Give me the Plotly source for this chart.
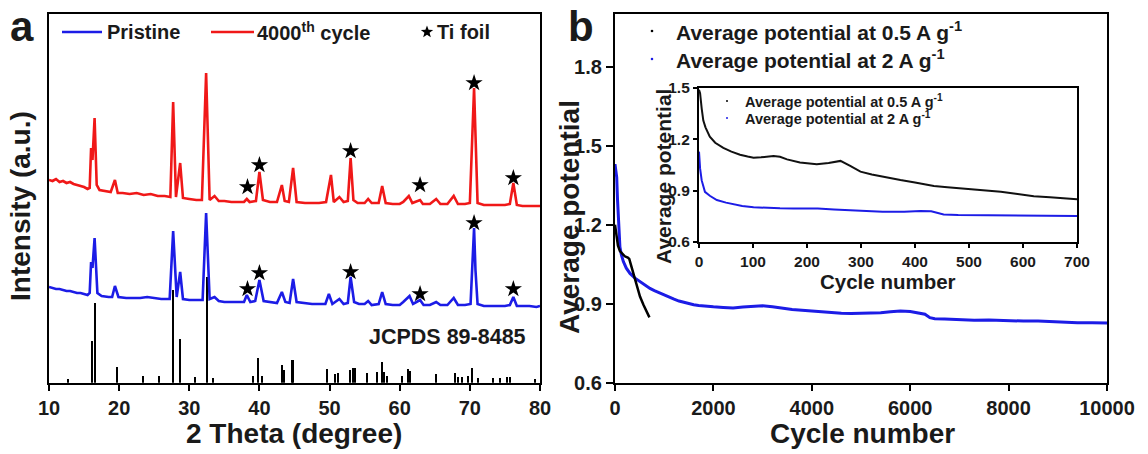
import math
import plotly.graph_objects as go

W, H = 1148, 454

# ---------------- Panel a data (XRD, arbitrary units) ----------------
red_deg = [10.0, 10.5, 11, 11.5, 12, 12.5, 13, 13.5, 14, 14.5, 15, 15.5, 15.8, 16.0, 16.2, 16.5, 16.8, 17.2, 18, 18.8,
           19.4, 19.8, 20.5, 21.5, 22.5, 23.5, 24.5, 25.5, 26.5, 27.3, 27.7, 28.1, 28.7, 29.1, 30, 31, 31.8, 32.4, 32.9,
           33.6, 34.2, 35, 36, 37, 37.8, 38.2, 38.6, 39.5, 40.0, 40.5, 41.5, 42.5, 43.2, 43.6, 44.2, 44.8, 45.3, 46.5,
           47.5, 48.5, 49.5, 50.2, 50.6, 51.4, 52.0, 52.6, 53.0, 53.4, 54.0, 55.0, 55.5, 56.0, 57.0, 57.5, 58.0, 59.0,
           60.0, 60.5, 61.3, 61.8, 62.9, 63.3, 64.3, 65.2, 65.8, 66.8, 67.7, 68.3, 69.3, 70.0, 70.6, 70.8, 71.1, 72, 73,
           74, 75, 75.7, 76.2, 76.7, 77.5, 78.5, 79.5, 80]
red_px = [180, 181, 179, 182, 181, 183, 182, 184, 185, 186, 187, 189, 188, 148, 160, 118, 185, 190, 191, 192,
          180, 193, 193, 194, 193, 195, 194, 196, 196, 197, 102, 197, 163, 198, 199, 200, 200, 73, 200,
          196, 201, 201, 202, 202, 202, 199, 202, 201, 172, 200, 202, 202, 185, 201, 202, 168, 202, 203,
          203, 203, 202, 175, 202, 197, 202, 201, 158, 200, 203, 203, 199, 203, 203, 186, 203, 204,
          204, 202, 196, 203, 200, 204, 204, 199, 204, 204, 196, 204, 204, 203, 88, 140, 203, 205, 205,
          205, 205, 204, 183, 205, 206, 206, 206, 206]

blue_deg = [10, 10.5, 11, 11.5, 12, 12.5, 13, 13.5, 14, 14.5, 15, 15.5, 15.8, 16.0, 16.2, 16.5, 16.9, 17.5, 18.5, 19.0,
            19.4, 19.9, 21, 22, 23, 24, 25, 26, 27.2, 27.7, 28.2, 28.7, 29.1, 30, 31, 31.9, 32.4, 32.9, 33.6, 34.2,
            35, 36, 37, 37.8, 38.2, 38.7, 39.4, 40.0, 40.6, 41.5, 42.5, 43.2, 43.7, 44.3, 44.8, 45.3, 46.5, 47.5,
            48.5, 49.4, 49.9, 50.4, 51.4, 52.0, 52.6, 53.0, 53.5, 54.2, 55.0, 55.5, 56.0, 57.0, 57.5, 58.0, 59.0,
            60.0, 60.5, 61.4, 61.9, 62.9, 63.4, 64.3, 65.2, 65.8, 66.8, 67.7, 68.3, 69.3, 70.1, 70.6, 70.8, 71.1,
            72, 73, 74, 75, 75.7, 76.2, 76.7, 77.5, 78.5, 79.5, 80]
blue_px = [287, 288, 289, 289, 290, 291, 291, 292, 293, 293, 294, 295, 293, 262, 268, 238, 293, 296, 297, 297,
           286, 297, 298, 298, 298, 297, 298, 299, 299, 231, 297, 272, 299, 300, 300, 300, 213, 299, 297, 301,
           302, 302, 302, 302, 295, 302, 301, 280, 301, 302, 303, 292, 302, 303, 279, 302, 303, 304,
           304, 304, 294, 304, 299, 304, 303, 277, 302, 304, 304, 301, 305, 304, 292, 304, 305,
           305, 302, 296, 304, 300, 305, 305, 302, 305, 305, 298, 305, 305, 304, 228, 270, 304,
           306, 306, 306, 306, 305, 297, 306, 306, 306, 307, 306]

stick_deg = [12.75, 16.08, 16.56, 19.65, 23.45, 25.73, 27.7, 28.68, 30.8, 32.5, 33.4, 39.04, 39.84, 40.32,
             43.26, 43.5, 44.6, 44.83, 49.68, 50.78, 51.25, 52.9, 53.38, 53.6, 55.3, 56.8, 57.52, 57.8, 58.14,
             60.28, 61.23, 61.47, 65.13, 67.88, 68.36, 68.84, 69.78, 70.26, 71.2, 73.3, 74.3, 75.3, 75.7, 79.3]
stick_px = [378.7, 340.7, 302.7, 367.3, 376, 376, 290, 339.3, 377.3, 276.7, 377.7, 376, 358.3, 376,
            365, 370, 360, 360, 369, 374, 372.7, 370, 367.7, 368, 372.7, 371.7, 361.7, 372, 376,
            376, 369.3, 371, 374, 373, 376.7, 377, 376, 367.7, 378, 378, 378, 377, 377, 379]

ti_deg = [38.3, 40.0, 53.0, 62.9, 70.6, 76.2]
ti_red_px = [187, 165, 151, 185, 83, 178]
ti_blue_px = [289, 273, 272, 294, 223, 289]

BASE_PX = 382.7  # pixel row of zero intensity
def to_int(vals):
    return [round(BASE_PX - v, 1) for v in vals]

# ---------------- Panel b data ----------------
cyc_2A = [0, 35, 50, 68, 85, 100, 130, 170, 230, 305, 400, 508, 600, 711, 800, 900, 1000, 1100, 1200, 1300, 1400,
          1500, 1600, 1700, 1800, 2000, 2200, 2400, 2600, 2800, 3000, 3200, 3400, 3600, 3800, 4000, 4200, 4400,
          4600, 4800, 5000, 5200, 5400, 5600, 5800, 6000, 6200, 6300, 6400, 6500, 6700, 7000, 7300, 7600, 8000,
          8300, 8600, 9000, 9400, 9700, 10000]
pot_2A = [1.43, 1.38, 1.30, 1.22, 1.16, 1.115, 1.085, 1.06, 1.035, 1.015, 0.998, 0.984, 0.972, 0.958, 0.950, 0.941,
          0.932, 0.925, 0.917, 0.910, 0.905, 0.900, 0.896, 0.893, 0.891, 0.888, 0.886, 0.884, 0.887, 0.889, 0.892,
          0.888, 0.882, 0.878, 0.875, 0.872, 0.870, 0.867, 0.864, 0.863, 0.864, 0.863, 0.866, 0.869, 0.872, 0.870,
          0.865, 0.860, 0.847, 0.843, 0.842, 0.840, 0.837, 0.838, 0.835, 0.834, 0.834, 0.830, 0.828, 0.828, 0.827]

cyc_05A_main = [0, 30, 60, 100, 150, 200, 260, 290, 320, 380, 440, 508, 580, 644, 700]
pot_05A_main = [1.20, 1.16, 1.12, 1.10, 1.09, 1.08, 1.075, 1.07, 1.05, 1.01, 0.97, 0.927, 0.895, 0.872, 0.848]

cyc_05A_in = [0, 2, 5, 8, 12, 20, 30, 45, 60, 76, 90, 101, 115, 138, 150, 163, 187, 200, 218, 240, 262, 280, 299,
              320, 342, 373, 400, 435, 460, 490, 520, 559, 590, 620, 650, 680, 700]
pot_05A_in = [1.49, 1.47, 1.38, 1.31, 1.27, 1.216, 1.18, 1.15, 1.128, 1.11, 1.10, 1.093, 1.095, 1.103, 1.098, 1.083,
              1.065, 1.06, 1.055, 1.062, 1.074, 1.045, 1.011, 0.995, 0.98, 0.962, 0.948, 0.927, 0.92, 0.913, 0.905,
              0.893, 0.88, 0.868, 0.862, 0.855, 0.85]

cyc_2A_in = [0, 2, 5, 8, 11, 20, 33, 50, 64, 80, 101, 125, 150, 175, 200, 220, 250, 280, 300, 340, 380, 410, 430,
             441, 453, 480, 520, 560, 600, 633, 670, 700]
pot_2A_in = [1.128, 1.03, 0.96, 0.92, 0.893, 0.87, 0.845, 0.83, 0.82, 0.81, 0.803, 0.799, 0.797, 0.796, 0.795,
             0.796, 0.79, 0.785, 0.78, 0.777, 0.777, 0.781, 0.779, 0.77, 0.761, 0.758, 0.757, 0.755, 0.755, 0.753,
             0.752, 0.752]

x_ticks_a = [10, 20, 30, 40, 50, 60, 70, 80]
x_ticks_b = [0, 2000, 4000, 6000, 8000, 10000]
y_ticks_b = [0.6, 0.9, 1.2, 1.5, 1.8]
x_ticks_in = [0, 100, 200, 300, 400, 500, 600, 700]
y_ticks_in = [0.6, 0.9, 1.2, 1.5]

BLUE = "#1c1ce6"
RED = "#f01818"
FONT = "Liberation Sans, Arial, sans-serif"
TXT = "#1a1a1a"

def px(x):
    return x / W
def py(y):
    return 1 - y / H

fig = go.Figure()

# panel a
fig.add_trace(go.Bar(x=stick_deg, y=to_int(stick_px), width=0.3, marker=dict(color="black", line=dict(width=0)),
                     xaxis="x", yaxis="y"))
fig.add_trace(go.Scatter(x=red_deg, y=to_int(red_px), mode="lines", line=dict(color=RED, width=2.6),
                         xaxis="x", yaxis="y"))
fig.add_trace(go.Scatter(x=blue_deg, y=to_int(blue_px), mode="lines", line=dict(color=BLUE, width=2.6),
                         xaxis="x", yaxis="y"))
fig.add_trace(go.Scatter(x=ti_deg + ti_deg, y=to_int(ti_red_px) + to_int(ti_blue_px), mode="markers",
                         marker=dict(symbol="star", size=13, color="black"), xaxis="x", yaxis="y"))

# panel b main
fig.add_trace(go.Scatter(x=cyc_2A, y=pot_2A, mode="lines", line=dict(color=BLUE, width=3),
                         xaxis="x2", yaxis="y2"))
fig.add_trace(go.Scatter(x=cyc_05A_main, y=pot_05A_main, mode="lines", line=dict(color="black", width=2.5),
                         xaxis="x2", yaxis="y2"))
# inset
fig.add_trace(go.Scatter(x=cyc_05A_in, y=pot_05A_in, mode="lines", line=dict(color="#111111", width=2),
                         xaxis="x3", yaxis="y3"))
fig.add_trace(go.Scatter(x=cyc_2A_in, y=pot_2A_in, mode="lines", line=dict(color=BLUE, width=2),
                         xaxis="x3", yaxis="y3"))

tickf = dict(family=FONT, size=20, color=TXT, weight="bold")
tickf_in = dict(family=FONT, size=15.5, color=TXT, weight="bold")
ax_common = dict(showline=True, linewidth=2.2, linecolor="black", mirror=True, showgrid=False, zeroline=False,
                 ticks="outside", tickwidth=2, tickcolor="black", automargin=False)

def labels(vals, fmt):
    return [fmt.format(v) for v in vals]

fig.update_layout(
    width=W, height=H, margin=dict(l=0, r=0, t=0, b=0, pad=0, autoexpand=False),
    paper_bgcolor="white", plot_bgcolor="rgba(0,0,0,0)", showlegend=False,
    font=dict(family=FONT, color=TXT),
    xaxis=dict(domain=[px(49), px(540)], range=[10, 80], tickvals=x_ticks_a, ticktext=labels(x_ticks_a, "{}"),
               ticklen=6, tickfont=tickf, anchor="y", **ax_common),
    yaxis=dict(domain=[py(382.7), py(14)], range=[0, 368.7], showticklabels=False, anchor="x",
               **{**ax_common, "ticks": ""}),
    xaxis2=dict(domain=[px(615), px(1107)], range=[0, 10000], tickvals=x_ticks_b, ticktext=labels(x_ticks_b, "{}"),
                ticklen=6, tickfont=tickf, anchor="y2", **ax_common),
    yaxis2=dict(domain=[py(382.7), py(14)], range=[0.6, 2.0], tickvals=y_ticks_b,
                ticktext=labels(y_ticks_b, "{:.1f}"), ticklen=7, tickfont=tickf, anchor="x2", **ax_common),
    xaxis3=dict(domain=[px(699), px(1077)], range=[0, 700], tickvals=x_ticks_in, ticktext=labels(x_ticks_in, "{}"),
                ticklen=4, tickfont=tickf_in, anchor="y3", **ax_common),
    yaxis3=dict(domain=[py(242), py(88)], range=[0.6, 1.5], tickvals=y_ticks_in,
                ticktext=labels(y_ticks_in, "{:.1f}"), ticklen=4, tickfont=tickf_in, anchor="x3", **ax_common),
    bargap=0,
)

ann = []
def add_text(text, x, y, size, xanchor="center", yanchor="middle", angle=0, family=FONT):
    ann.append(dict(text=text, x=px(x), y=py(y), xref="paper", yref="paper", showarrow=False,
                    xanchor=xanchor, yanchor=yanchor, textangle=angle,
                    font=dict(family=family, size=size, color=TXT, weight="bold")))

# panel labels
add_text("a", 22, 26, 42)
add_text("b", 581, 1, 42, yanchor="top")
# axis titles
add_text("2 Theta (degree)", 294.5, 433, 28)
add_text("Intensity (a.u.)", 20, 206, 28, angle=-90)
add_text("Cycle number", 862, 433, 28)
add_text("Average potential", 569, 217, 28, angle=-90)
add_text("Cycle number", 888, 281, 20.5)
add_text("Average potential", 663, 177, 21, angle=-90)
# panel a legend / labels
add_text("Pristine", 105, 32, 20, xanchor="left")
add_text("4000<sup>th</sup> cycle", 255, 32, 20, xanchor="left")
add_text("Ti foil", 435, 32, 20, xanchor="left")
add_text("JCPDS 89-8485", 528, 337, 21.5, xanchor="right")
# panel b legends
add_text("Average potential at 0.5 A g<sup>-1</sup>", 674, 31, 21, xanchor="left")
add_text("Average potential at 2 A g<sup>-1</sup>", 674, 59, 21, xanchor="left")
add_text("Average potential at 0.5 A g<sup>-1</sup>", 743, 101, 14.5, xanchor="left")
add_text("Average potential at 2 A g<sup>-1</sup>", 743, 118, 14.5, xanchor="left")
fig.update_layout(annotations=ann)

shapes = [
    dict(type="line", xref="paper", yref="paper", x0=px(62), x1=px(102), y0=py(32), y1=py(32),
         line=dict(color=BLUE, width=2.5)),
    dict(type="line", xref="paper", yref="paper", x0=px(211), x1=px(254), y0=py(32), y1=py(32),
         line=dict(color=RED, width=2.5)),
]
for (cx, cy, col, r) in [(652, 31, "black", 1.3), (652, 59, BLUE, 1.3), (727, 101, "black", 1.0), (727, 118, BLUE, 1.0)]:
    shapes.append(dict(type="circle", xref="paper", yref="paper", x0=px(cx - r), x1=px(cx + r),
                       y0=py(cy + r), y1=py(cy - r), fillcolor=col, line=dict(color=col, width=0)))

# legend star (decoration) for "Ti foil"
cx, cy, ro, ri = 427, 32, 6.5, 2.7
pts = []
for k in range(10):
    ang = -math.pi / 2 + k * math.pi / 5
    r = ro if k % 2 == 0 else ri
    pts.append((px(cx + r * math.cos(ang)), py(cy + r * math.sin(ang))))
path = "M " + " L ".join(f"{a:.5f},{b:.5f}" for a, b in pts) + " Z"
shapes.append(dict(type="path", xref="paper", yref="paper", path=path, fillcolor="black",
                   line=dict(color="black", width=0)))
fig.update_layout(shapes=shapes)

fig.write_html("out.html")
